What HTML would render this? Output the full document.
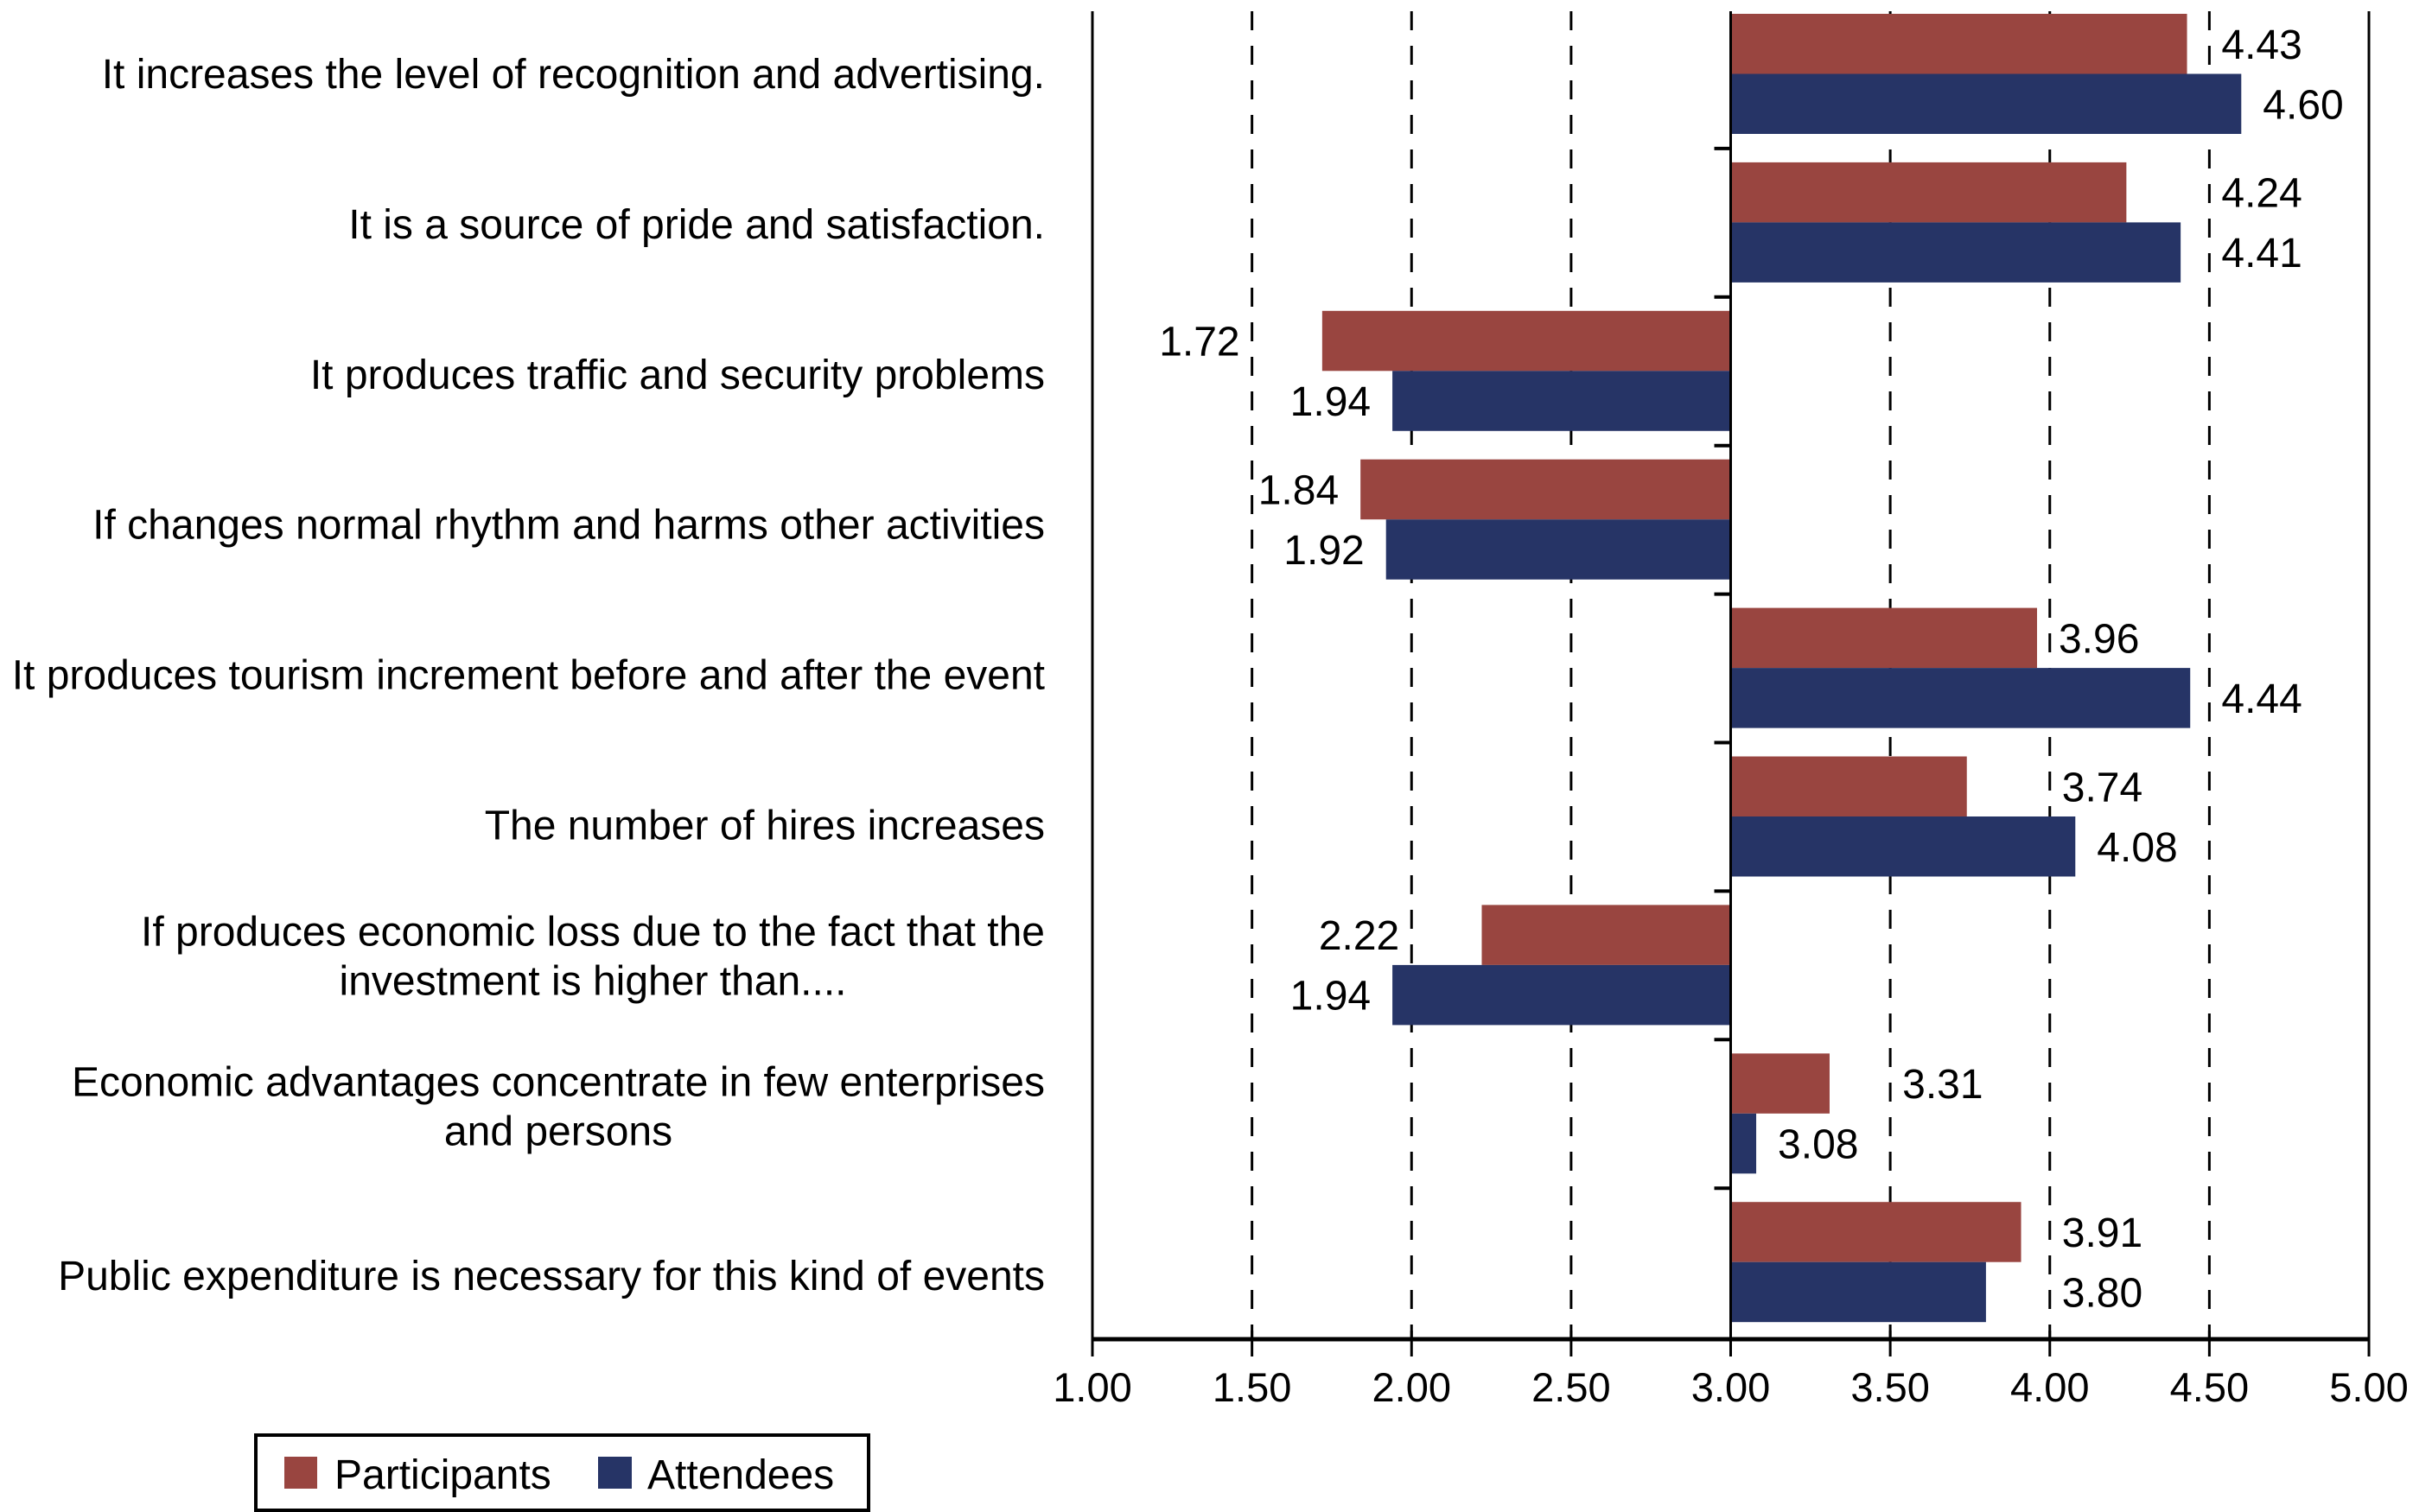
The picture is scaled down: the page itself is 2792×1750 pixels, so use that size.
<!DOCTYPE html>
<html><head><meta charset="utf-8"><style>
html,body{margin:0;padding:0;background:#fff;}
svg{display:block;font-family:"Liberation Sans",Arial,sans-serif;}
</style></head><body>
<svg id="chart" width="2792" height="1750" viewBox="0 0 2792 1750" xmlns="http://www.w3.org/2000/svg"></svg>
<script>
const categories = [
  ["It increases the level of recognition and advertising."],
  ["It is a source of pride and satisfaction."],
  ["It produces traffic and security problems"],
  ["If changes normal rhythm and harms other activities"],
  ["It produces tourism increment before and after the event"],
  ["The number of hires increases"],
  ["If produces economic loss due to the fact that the","investment is higher than...."],
  ["Economic advantages concentrate in few enterprises","and persons"],
  ["Public expenditure is necessary for this kind of events"]
];
const participants = [4.43, 4.24, 1.72, 1.84, 3.96, 3.74, 2.22, 3.31, 3.91];
const attendees = [4.60, 4.41, 1.94, 1.92, 4.44, 4.08, 1.94, 3.08, 3.80];
const xTicks = [1.00, 1.50, 2.00, 2.50, 3.00, 3.50, 4.00, 4.50, 5.00];
const gridValues = [1.50, 2.00, 2.50, 3.50, 4.00, 4.50];
const seriesNames = ["Participants", "Attendees"];

const NS = "http://www.w3.org/2000/svg";
const svg = document.getElementById("chart");
const X0 = 1264, X1 = 2741, TOP = 13, AXY = 1550, BASE = 3.0;
const GROUP = 171.9, BAR_OFF = 16, BAR_H = 69.5;
const RED = "#994540", BLUE = "#263466";
function x(v){ return X0 + (v - 1) / 4 * (X1 - X0); }
function gy(i){ return i * GROUP; }
function mk(tag, attrs){ const e = document.createElementNS(NS, tag); for (const k in attrs) e.setAttribute(k, attrs[k]); svg.appendChild(e); return e; }

// grid lines
gridValues.forEach(function(t){
  const g = mk("line", {x1:x(t), x2:x(t), y1:TOP, y2:AXY, stroke:"#000", "stroke-width":3, "stroke-dasharray":"22 18"});
  
  
});

function labelX(v){
  const end = x(v);
  if (v >= BASE){
    let s = end + 25;
    gridValues.forEach(function(g){ const gx = x(g); if (gx >= s - 9 && gx <= s + 93) s = gx + 14; });
    return s;
  } else {
    let e = end - 25;
    gridValues.forEach(function(g){ const gx = x(g); if (gx >= e - 93 && gx <= e + 9) e = gx - 14; });
    return e;
  }
}

// bars
function bars(vals, off, color, name){
  vals.forEach(function(v, i){
    const a = Math.min(x(v), x(BASE)), b = Math.max(x(v), x(BASE));
    const r = mk("rect", {x:a, y:gy(i)+off, width:b-a, height:BAR_H, fill:color});
    
    
    const yc = gy(i) + off + BAR_H/2 + 17;
    const t = mk("text", {x: labelX(v), y: yc, "font-size":48, "text-anchor": v >= BASE ? "start" : "end", fill:"#000"});
    t.textContent = v.toFixed(2);
    
    
  });
}
bars(participants, BAR_OFF, RED, "participants");
bars(attendees, BAR_OFF + BAR_H, BLUE, "attendees");

// axes lines
const la = mk("line", {x1:X0, x2:X0, y1:TOP, y2:AXY, stroke:"#000", "stroke-width":3});


const ra = mk("line", {x1:X1, x2:X1, y1:TOP, y2:AXY, stroke:"#000", "stroke-width":3});


const ba = mk("line", {x1:x(BASE), x2:x(BASE), y1:TOP, y2:AXY, stroke:"#000", "stroke-width":3});


const xa = mk("line", {x1:X0, x2:X1, y1:AXY, y2:AXY, stroke:"#000", "stroke-width":5});



// group ticks
for (let i = 1; i < categories.length; i++){
  const tk = mk("line", {x1:x(BASE)-19, x2:x(BASE), y1:gy(i), y2:gy(i), stroke:"#000", "stroke-width":4});
  
  
}

// x ticks + labels
xTicks.forEach(function(t){
  const l = mk("line", {x1:x(t), x2:x(t), y1:AXY-10, y2:AXY+20, stroke:"#000", "stroke-width":3});
  
  
  const tx = mk("text", {x:x(t), y:1622, "font-size":47, "text-anchor":"middle", fill:"#000"});
  tx.textContent = t.toFixed(2);
  
  
});

// category labels
const LABEL_RIGHT = 1209;
categories.forEach(function(lines, i){
  const c = 85 + i * 173.9;
  const n = lines.length;
  let first = null;
  lines.forEach(function(s, j){
    const cy = n > 1 ? c - 51 + j * 57 : c;
    const t = mk("text", {x: LABEL_RIGHT, y: cy + 17, "font-size":48, "text-anchor":"end", fill:"#000"});
    t.textContent = s;
    
    
    if (j === 0) first = t;
    else {
      const w = first.getComputedTextLength();
      t.setAttribute("x", LABEL_RIGHT - w/2);
      t.setAttribute("text-anchor", "middle");
    }
  });
});

// legend
const lb = mk("rect", {x:296, y:1661, width:709, height:87, fill:"#fff", stroke:"#000", "stroke-width":4});


const s1 = mk("rect", {x:329, y:1686, width:38, height:37, fill:RED});


const t1 = mk("text", {x:387, y:1723, "font-size":48, fill:"#000"});
t1.textContent = seriesNames[0];


const s2 = mk("rect", {x:692, y:1686, width:39, height:37, fill:BLUE});


const t2 = mk("text", {x:749, y:1723, "font-size":48, fill:"#000"});
t2.textContent = seriesNames[1];


</script>
</body></html>
